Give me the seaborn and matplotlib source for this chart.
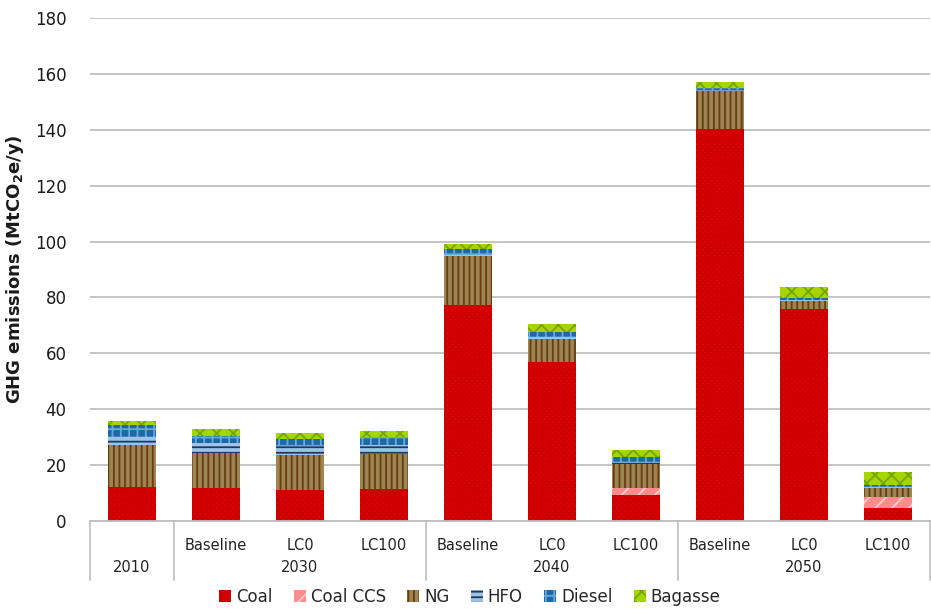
import numpy as np
import pandas as pd
import matplotlib
matplotlib.use("Agg")
import matplotlib.pyplot as plt
from matplotlib.patches import Patch
from matplotlib.lines import Line2D
import seaborn as sns

# ---- data (MtCO2e/y) ----
groups = ["2010", "2030", "2030", "2030", "2040", "2040", "2040", "2050", "2050", "2050"]
scenarios = ["", "Baseline", "LC0", "LC100", "Baseline", "LC0", "LC100", "Baseline", "LC0", "LC100"]
coal = [12.0, 11.7, 11.1, 11.3, 77.3, 56.8, 9.3, 140.3, 75.7, 4.5]
coal_ccs = [0.0, 0.0, 0.0, 0.0, 0.0, 0.0, 2.6, 0.0, 0.0, 4.2]
ng = [15.2, 12.8, 12.4, 12.7, 17.6, 8.2, 8.4, 13.6, 3.1, 3.0]
hfo = [3.0, 3.3, 3.3, 3.2, 0.3, 0.9, 0.4, 0.2, 0.2, 0.3]
diesel = [4.2, 2.6, 2.7, 2.8, 2.3, 1.9, 2.3, 0.9, 0.8, 0.9]
bagasse = [1.4, 2.4, 1.9, 2.2, 1.6, 2.6, 2.4, 2.2, 4.1, 4.5]

fuels = ["Coal", "Coal CCS", "NG", "HFO", "Diesel", "Bagasse"]
series = [coal, coal_ccs, ng, hfo, diesel, bagasse]

# fill colour, hatch colour, hatch pattern
styles = {
    "Coal":     ("#E60000", "#C80000", "xxxxxx"),
    "Coal CCS": ("#FF8C8C", "#FFD0D0", "//"),
    "NG":       ("#9C8550", "#6A3C12", "|||"),
    "HFO":      ("#9DC3E6", "#1F3864", "---"),
    "Diesel":   ("#1A6AA8", "#6FA6D6", "++"),
    "Bagasse":  ("#A6D600", "#74A400", "xx"),
}

bar_ids = [f"{g} {s}".strip() for g, s in zip(groups, scenarios)]
df = pd.DataFrame({"bar": bar_ids})
cum = np.zeros(len(bar_ids))
for name, vals in zip(fuels, series):
    cum = cum + np.array(vals)
    df[name] = cum.copy()

sns.set_theme(style="white")
plt.rcParams["font.family"] = ["DejaVu Sans"]
plt.rcParams["hatch.linewidth"] = 1.3

fig = plt.figure(figsize=(9.31, 6.09), dpi=100)
ax = fig.add_axes([90 / 931, 88 / 609, 840 / 931, 503 / 609])

# stacked bars drawn as cumulative totals, topmost layer first
for name in reversed(fuels):
    face, hcol, hatch = styles[name]
    sns.barplot(data=df, x="bar", y=name, order=bar_ids, color=face,
                saturation=1, width=0.57, edgecolor=hcol, linewidth=0,
                hatch=hatch, ax=ax)

ax.set_ylim(0, 180)
ax.set_xlim(-0.5, len(bar_ids) - 0.5)
ax.set_yticks(np.arange(0, 181, 20))
ax.tick_params(axis="y", labelsize=12, length=0, pad=17, colors="#1A1A1A")
ax.set_xticks([])
ax.set_xlabel("")
ax.yaxis.grid(True, color="#BFBFBF", linewidth=1.3)
ax.set_axisbelow(True)
for side in ["left", "right", "top"]:
    ax.spines[side].set_visible(False)
ax.spines["bottom"].set_color("#BFBFBF")
ax.spines["bottom"].set_linewidth(1.3)
ax.set_ylabel("GHG emissions (MtCO$_\\mathbf{2}$e/y)", fontsize=13,
              fontweight="bold", color="#1A1A1A")
ax.yaxis.set_label_coords(-64 / 840, 0.5)

# two-level category table under the axis
trans = ax.get_xaxis_transform()
row1_y = -24 / 503
row2_y = -47 / 503
table_bottom = -59 / 503
for i, s in enumerate(scenarios):
    if s:
        ax.text(i, row1_y, s, transform=trans, ha="center", va="center",
                fontsize=10.5, color="#222222")

group_names = []
spans = []
for i, g in enumerate(groups):
    if not group_names or group_names[-1] != g:
        group_names.append(g)
        spans.append([i, i])
    else:
        spans[-1][1] = i
for g, (a, b) in zip(group_names, spans):
    ax.text((a + b) / 2, row2_y, g, transform=trans, ha="center", va="center",
            fontsize=10.5, color="#222222")

edges = [-0.5] + [b + 0.5 for _, b in spans]
for x in edges:
    ax.add_line(Line2D([x, x], [0, table_bottom], transform=trans,
                       color="#BFBFBF", linewidth=1.2, clip_on=False))

handles = [Patch(facecolor=styles[n][0], edgecolor=styles[n][1],
                 hatch=styles[n][2], linewidth=0, label=n) for n in fuels]
fig.legend(handles=handles, loc="center", bbox_to_anchor=(470 / 931, 1 - 597 / 609),
           ncol=6, frameon=False, fontsize=12, handlelength=0.7,
           handleheight=0.7, handletextpad=0.3, columnspacing=1.3)

fig.savefig("out.png", dpi=100)
